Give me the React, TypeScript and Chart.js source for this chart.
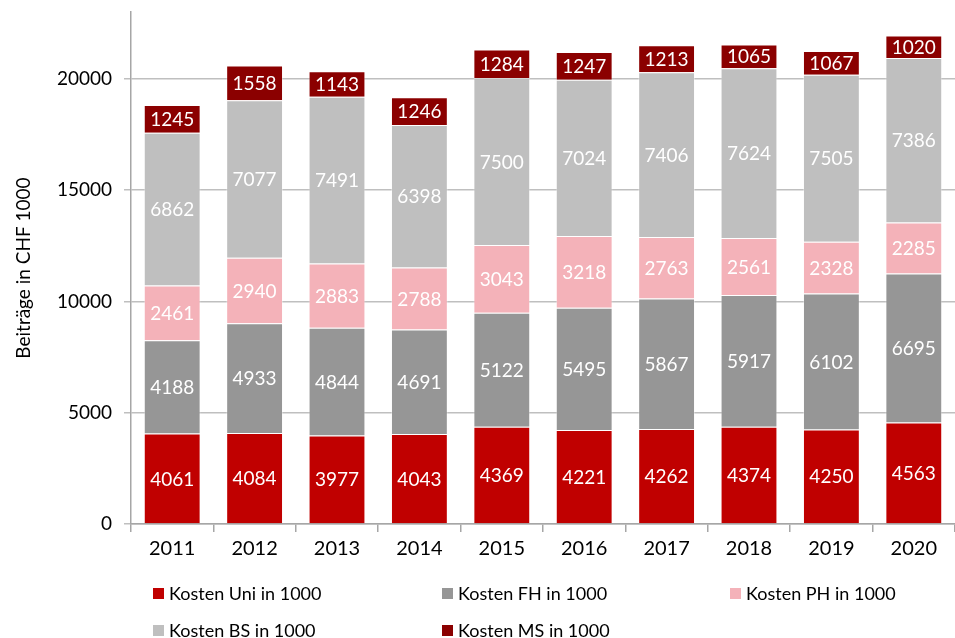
import React, { useEffect, useRef } from "react";
import { Chart, registerables } from "chart.js";

Chart.register(...registerables);

const years = ["2011", "2012", "2013", "2014", "2015", "2016", "2017", "2018", "2019", "2020"];
const uni = [4061, 4084, 3977, 4043, 4369, 4221, 4262, 4374, 4250, 4563];
const fh = [4188, 4933, 4844, 4691, 5122, 5495, 5867, 5917, 6102, 6695];
const ph = [2461, 2940, 2883, 2788, 3043, 3218, 2763, 2561, 2328, 2285];
const bs = [6862, 7077, 7491, 6398, 7500, 7024, 7406, 7624, 7505, 7386];
const ms = [1245, 1558, 1143, 1246, 1284, 1247, 1213, 1065, 1067, 1020];
const yTicks = [0, 5000, 10000, 15000, 20000];
const yMax = 23000;
const seriesNames = ["Kosten Uni in 1000", "Kosten FH in 1000", "Kosten PH in 1000", "Kosten BS in 1000", "Kosten MS in 1000"];
const seriesColors = ["#C00000", "#969696", "#F4B2B9", "#BFBFBF", "#8B0000"];
const yAxisTitle = "Beiträge in CHF 1000";

const FONT = "Lato, 'Open Sans', sans-serif";

const valueLabels = {
  id: "valueLabels",
  afterDatasetsDraw(chart: any) {
    const ctx = chart.ctx;
    ctx.save();
    ctx.fillStyle = "#ffffff";
    ctx.font = `19px ${FONT}`;
    ctx.textAlign = "center";
    ctx.textBaseline = "middle";
    chart.data.datasets.forEach((ds: any, i: number) => {
      const meta = chart.getDatasetMeta(i);
      meta.data.forEach((bar: any, j: number) => {
        const y = (bar.y + bar.base) / 2;
        ctx.fillText(String(ds.data[j]), bar.x, y + 1);
      });
    });
    ctx.restore();
  },
};

export default function App() {
  const ref = useRef<HTMLCanvasElement>(null);
  useEffect(() => {
    const series = [uni, fh, ph, bs, ms];
    const chart = new Chart(ref.current!, {
      type: "bar",
      data: {
        labels: years,
        datasets: series.map((d, i) => ({
          label: seriesNames[i],
          data: d,
          backgroundColor: seriesColors[i],
          borderColor: "rgba(255,255,255,0.35)",
          borderWidth: 1,
          barPercentage: 0.69,
          categoryPercentage: 1,
        })),
      },
      options: {
        animation: false,
        responsive: false,
        layout: { padding: { top: 12, right: 0, left: 0, bottom: 0 } },
        plugins: { legend: { display: false }, tooltip: { enabled: false } },
        scales: {
          x: {
            stacked: true,
            offset: true,
            afterFit: (s: any) => { s.height = 114; s.paddingLeft = 0; s.paddingRight = 0; },
            grid: { offset: true, drawOnChartArea: false, drawTicks: true, tickLength: 8, color: "#A6A6A6", lineWidth: 1.5 },
            border: { color: "#A6A6A6", width: 1.5 },
            ticks: { color: "#000", font: { family: FONT, size: 20 }, padding: 5, maxRotation: 0 },
          },
          y: {
            stacked: true,
            min: 0,
            max: yMax,
            afterFit: (s: any) => { s.width = 131; s.paddingTop = 0; s.paddingBottom = 0; },
            afterBuildTicks: (s: any) => { s.ticks = yTicks.map((v) => ({ value: v })); },
            ticks: { color: "#000", font: { family: FONT, size: 19 }, padding: 12, callback: (v: any) => String(v) },
            grid: { color: "#BFBFBF", lineWidth: 1.5, tickLength: 7 },
            border: { color: "#A6A6A6", width: 1.5 },
            title: { display: true, text: yAxisTitle, color: "#000", font: { family: FONT, size: 19 }, padding: { top: 12, bottom: 0 } },
          },
        },
      },
      plugins: [valueLabels],
    });
    return () => chart.destroy();
  }, []);

  const legendPos = [
    { left: 153, top: 593 },
    { left: 442, top: 593 },
    { left: 730, top: 593 },
    { left: 153, top: 630 },
    { left: 442, top: 630 },
  ];

  return (
    <div style={{ position: "fixed", left: 0, top: 0, width: 955, height: 638, background: "#fff", fontFamily: FONT }}>
      <canvas ref={ref} width={955} height={638} style={{ position: "absolute", left: 0, top: 0 }} />
      {seriesNames.map((n, i) => (
        <div key={n} style={{ position: "absolute", left: legendPos[i].left, top: legendPos[i].top - 12, height: 24, display: "flex", alignItems: "center", fontSize: 18, color: "#000", whiteSpace: "nowrap" }}>
          <span style={{ display: "inline-block", width: 11, height: 11, background: seriesColors[i], marginRight: 5 }} />
          {n}
        </div>
      ))}
    </div>
  );
}
